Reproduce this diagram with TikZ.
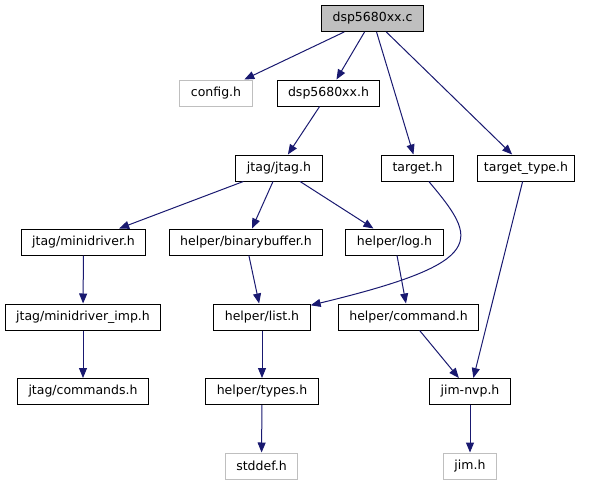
\documentclass[tikz,border=0pt]{standalone}
\usepackage{fontspec}
\setmainfont{DejaVu Sans}
\usetikzlibrary{arrows.meta}
\definecolor{edgeblue}{HTML}{191970}
\definecolor{sysgray}{HTML}{BFBFBF}

\begin{document}
\begin{tikzpicture}[x=1pt, y=-1pt,
    file/.style={draw=black, line width=1pt, fill=white, inner xsep=11pt, inner ysep=0pt,
                 minimum height=26pt, font=\fontsize{12.5}{14}\selectfont},
    sysfile/.style={file, draw=sysgray},
    incl/.style={-{Triangle[length=10pt, width=8pt]}, draw=edgeblue, line width=1pt}]
               \useasboundingbox (0,0) rectangle (592,485);
               % files
               \node[file, fill=sysgray] (dspc) at (372.5,18.5) {dsp5680xx.c};
               \node[sysfile] (config) at (216,93) {config.h};
               \node[file] (dsph) at (328.5,93) {dsp5680xx.h};
               \node[file] (jtag) at (279,168) {jtag/jtag.h};
               \node[file] (target) at (417.5,168) {target.h};
               \node[file, inner xsep=6pt] (ttype) at (526,168) {target\_type.h};
               \node[file] (minidrv) at (83.5,242) {jtag/minidriver.h};
               \node[file] (binbuf) at (246,242) {helper/binarybuffer.h};
               \node[file] (log) at (394.5,242) {helper/log.h};
               \node[file] (mdimp) at (83,317) {jtag/minidriver\_imp.h};
               \node[file] (list) at (262,317) {helper/list.h};
               \node[file] (command) at (408.5,317) {helper/command.h};
               \node[file] (commands) at (83,391.5) {jtag/commands.h};
               \node[file] (types) at (262,391.5) {helper/types.h};
               \node[file] (jimnvp) at (470,391.5) {jim-nvp.h};
               \node[sysfile] (stddef) at (261.5,466) {stddef.h};
               \node[sysfile] (jim) at (470,466) {jim.h};
               % includes
               \draw[incl] (dspc) -- (config);
               \draw[incl] (dspc) -- (dsph);
               \draw[incl] (dspc) -- (target);
               \draw[incl] (dspc) -- (ttype);
               \draw[incl] (dsph) -- (jtag);
               \draw[incl] (jtag) -- (minidrv);
               \draw[incl] (jtag) -- (binbuf);
               \draw[incl] (jtag) -- (log);
               \draw[incl] (target) .. controls (478,240) and (490,262) .. (list);
               \draw[incl] (ttype) -- (jimnvp);
               \draw[incl] (minidrv) -- (mdimp);
               \draw[incl] (mdimp) -- (commands);
               \draw[incl] (binbuf) -- (list);
               \draw[incl] (log) -- (command);
               \draw[incl] (list) -- (types);
               \draw[incl] (command) -- (jimnvp);
               \draw[incl] (types) -- (stddef);
               \draw[incl] (jimnvp) -- (jim);
          \end{tikzpicture}
\end{document}
